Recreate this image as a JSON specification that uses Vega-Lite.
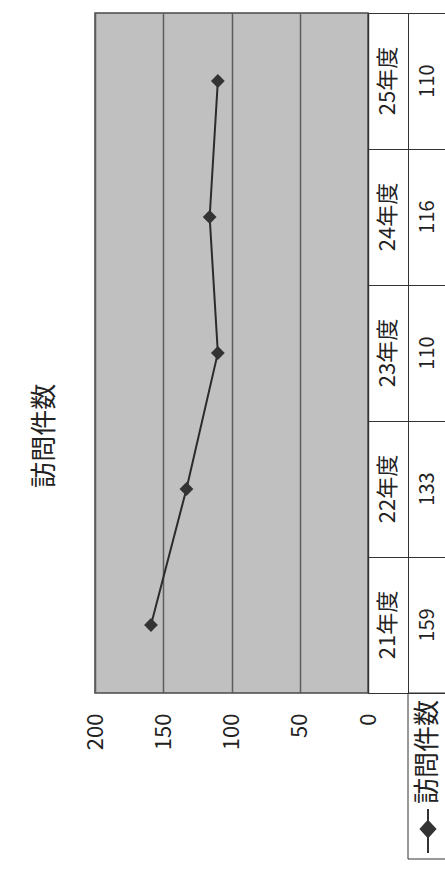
{
  "$schema": "https://vega.github.io/schema/vega-lite/v6.json",
  "padding": {"left": 32, "top": 12, "right": 0, "bottom": 34},
  "background": "white",
  "data": {"values": [
    {"年度": "21年度", "訪問件数": 159},
    {"年度": "22年度", "訪問件数": 133},
    {"年度": "23年度", "訪問件数": 110},
    {"年度": "24年度", "訪問件数": 116},
    {"年度": "25年度", "訪問件数": 110}
  ]},
  "title": {"text": "訪問件数", "orient": "left", "anchor": "middle", "font": "Noto Sans CJK JP", "fontSize": 26, "fontWeight": "normal", "color": "#222222", "offset": 25},
  "config": {"view": {"stroke": null}, "font": "Noto Sans CJK JP", "axis": {"labelFont": "Noto Sans CJK JP", "labelColor": "#222222"}},
  "bounds": "flush",
  "spacing": 0,
  "hconcat": [
    {
      "width": 273,
      "height": 680,
      "view": {"fill": "#c0c0c0", "stroke": "#4a4a4a", "strokeWidth": 1.5},
      "encoding": {
        "x": {"field": "訪問件数", "type": "quantitative",
              "scale": {"domain": [0, 200], "reverse": true, "nice": false},
              "axis": {"orient": "bottom", "values": [0, 50, 100, 150, 200], "labelAngle": -90, "labelAlign": "right", "labelBaseline": "middle", "labelPadding": 20, "ticks": false, "domain": false, "grid": true, "gridColor": "#5c5c5c", "gridWidth": 1.5, "labelFontSize": 22, "title": null}},
        "y": {"field": "年度", "type": "nominal", "sort": "descending", "scale": {"padding": 0.5}, "axis": null}
      },
      "layer": [
        {"mark": {"type": "line", "color": "#2b2b2b", "strokeWidth": 2},
         "encoding": {"order": {"field": "年度", "type": "ordinal"}}},
        {"mark": {"type": "point", "shape": "diamond", "filled": true, "color": "#333333", "size": 190, "opacity": 1}}
      ]
    },
    {
      "spacing": 0,
      "bounds": "flush",
      "vconcat": [
        {
          "width": 80,
          "height": 680,
          "view": {"stroke": "#333333", "strokeWidth": 1},
          "encoding": {
            "y": {"field": "年度", "type": "nominal", "sort": "descending",
                  "scale": {"type": "band", "paddingInner": 0, "paddingOuter": 0},
                  "axis": {"orient": "left", "grid": true, "bandPosition": 0, "labels": false, "ticks": false, "domain": false, "title": null, "gridColor": "#333333", "gridWidth": 1, "minExtent": 0, "maxExtent": 0}}
          },
          "layer": [
            {"mark": {"type": "text", "angle": -90, "fontSize": 22, "color": "#222222"},
             "encoding": {
               "x": {"datum": "年度", "type": "nominal",
                     "scale": {"type": "band", "domain": ["年度", "件数"], "paddingInner": 0, "paddingOuter": 0},
                     "axis": {"orient": "top", "grid": true, "bandPosition": 0, "labels": false, "ticks": false, "domain": false, "title": null, "gridColor": "#333333", "gridWidth": 1, "minExtent": 0, "maxExtent": 0}},
               "text": {"field": "年度"}
             }},
            {"mark": {"type": "text", "angle": -90, "fontSize": 20, "color": "#222222"},
             "encoding": {
               "x": {"datum": "件数", "type": "nominal"},
               "text": {"field": "訪問件数", "type": "quantitative"}
             }}
          ]
        },
        {
          "width": 80,
          "height": 166,
          "data": {"values": [{"系列": "訪問件数"}]},
          "encoding": {
            "x": {"datum": "件数", "type": "nominal",
                  "scale": {"type": "band", "domain": ["年度", "件数"], "paddingInner": 0, "paddingOuter": 0},
                  "axis": null}
          },
          "layer": [
            {"mark": {"type": "rect", "fill": "transparent", "stroke": "#333333", "strokeWidth": 1}},
            {"mark": {"type": "text", "angle": -90, "fontSize": 26, "color": "#222222", "align": "left", "baseline": "middle", "dx": -28},
             "encoding": {"text": {"field": "系列"}}},
            {"mark": {"type": "point", "shape": "M0,1.5L0,3.5M0,2.05L0.33,2.41L0,2.77L-0.33,2.41Z", "filled": true, "fill": "#333333", "stroke": "#333333", "strokeWidth": 2, "size": 1936, "opacity": 1},
             "encoding": {}}
          ]
        }
      ]
    }
  ]
}
